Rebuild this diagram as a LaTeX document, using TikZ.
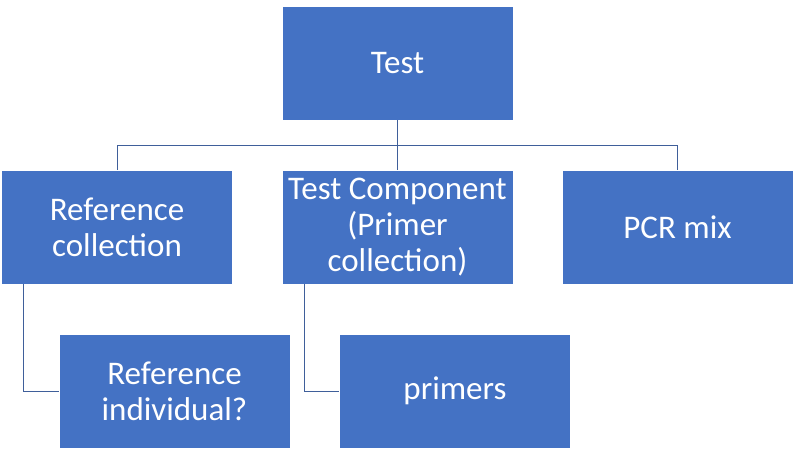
\documentclass[tikz,border=0pt]{standalone}
\usepackage{fontspec}
\setmainfont{Carlito}
\definecolor{boxblue}{HTML}{4472C4}
\definecolor{linkblue}{HTML}{3F5F9A}
\begin{document}
\begin{tikzpicture}[x=1pt,y=-1pt,
  every node/.style={align=center},
  box/.style={fill=boxblue,draw=white,line width=0.6pt,minimum width=231pt,minimum height=114pt,
    inner sep=0pt,text=white,font=\fontsize{33}{36}\selectfont},
  link/.style={draw=linkblue,line width=1pt}
]
\useasboundingbox (0,0) rectangle (795,455);
\node[box] (test) at (397.5,63) {Test};
\node[box] (refcoll) at (117,227) {Reference\\collection};
\node[box] (testcomp) at (397.5,227) {Test Component\\(Primer\\collection)};
\node[box] (pcr) at (677.5,227) {PCR mix};
\node[box] (refind) at (174.5,391) {Reference\\individual?};
\node[box] (primers) at (455,391) {primers};
\coordinate (bus) at (397.5,145);
% top level
\draw[link] (test.south) -- (bus);
\draw[link] (refcoll.north) -- (refcoll.north |- bus) -- (pcr.north |- bus) -- (pcr.north);
\draw[link] (bus) -- (testcomp.north);
% second level
\draw[link] ([xshift=22pt]refcoll.south west) |- (refind.west);
\draw[link] ([xshift=23pt]testcomp.south west) |- (primers.west);
\end{tikzpicture}
\end{document}
